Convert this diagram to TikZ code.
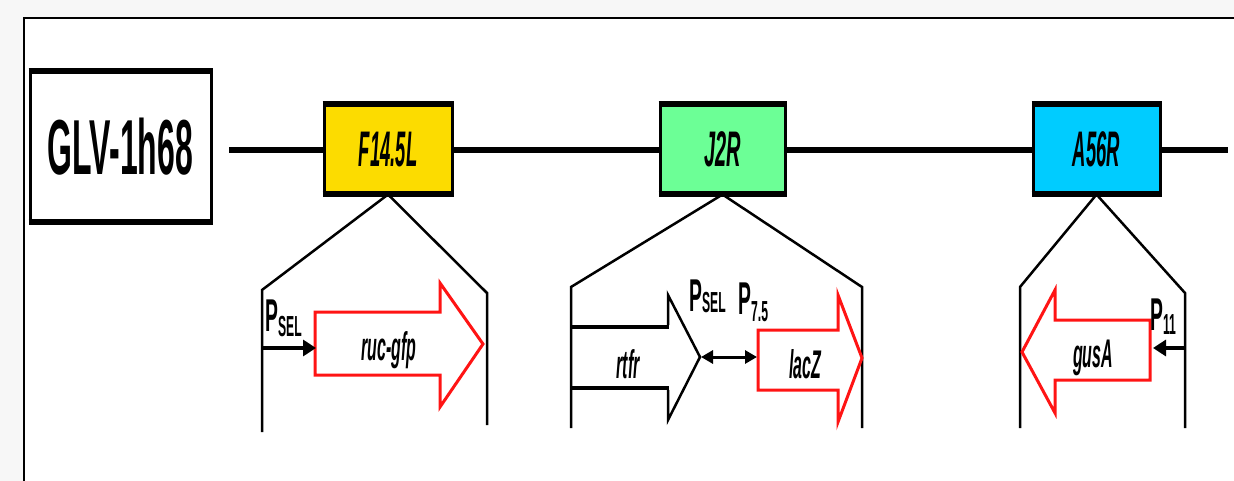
\documentclass[tikz,border=0pt]{standalone}
\usepackage{fontspec}
\usepackage{graphicx}
\setmainfont{Liberation Sans}
\usetikzlibrary{arrows.meta}
\definecolor{bggray}{HTML}{F7F7F7}
\definecolor{geneyellow}{HTML}{FCDC00}
\definecolor{genegreen}{HTML}{6CFF96}
\definecolor{genecyan}{HTML}{00CCFF}
\definecolor{cassred}{HTML}{FF1414}
\newcommand\sqz[2][0.40]{\scalebox{#1}[1]{#2}}
\newcommand\plab[2][-5pt]{\sqz[0.42]{\bfseries\fontsize{46}{46}\selectfont P\raisebox{#1}{\fontsize{29}{29}\selectfont #2}}}
\begin{document}
\begin{tikzpicture}[x=1pt,y=-1pt,
  genebox/.style={draw, line width=3pt, minimum height=87pt, inner sep=0pt,
    font=\fontsize{50}{50}\selectfont\bfseries\itshape},
  edgebar/.style={line width=6pt},
  ins/.style={line width=2.5pt, line join=miter},
  cass/.style={draw=cassred, line width=3pt, fill=white, line join=miter},
  prom/.style={line width=4pt, -{Triangle[length=13pt,width=16pt]}},
  genelabel/.style={font=\fontsize{40}{40}\selectfont\bfseries\itshape, inner sep=0pt},
  plabel/.style={inner sep=0pt, anchor=base west}
]
\useasboundingbox (0,0) rectangle (1234,481);
\fill[bggray] (0,0) rectangle (1234,481);
\fill[white] (24,18) rectangle (1234,481);
\draw[line width=2pt] (24,481) -- (24,18) -- (1234,18);

% backbone
\coordinate (lineL) at (229,150);
\coordinate (lineR) at (1228,150);
\draw[line width=6.5pt] (lineL) -- (lineR);

% title box
\node[draw, line width=3pt, minimum width=181pt, minimum height=148pt, inner sep=0pt,
  font=\fontsize{78}{78}\selectfont\bfseries, fill=white] (GLV) at (120.5,147) {\sqz[0.41]{GLV-1h68}};
\draw[edgebar] (GLV.north west) -- (GLV.north east);
\draw[edgebar] (GLV.south west) -- (GLV.south east);

% gene boxes
\node[genebox, fill=geneyellow, minimum width=128pt] (F) at (388,149.5) {\sqz[0.37]{F14.5L}};
\node[genebox, fill=genegreen, minimum width=125pt] (J) at (722.5,149.5) {\sqz[0.40]{J2R}};
\node[genebox, fill=genecyan, minimum width=127pt] (A) at (1096.5,149.5) {\sqz[0.37]{A56R}};
\foreach \b in {F,J,A}{
  \draw[edgebar] (\b.north west) -- (\b.north east);
  \draw[edgebar] (\b.south west) -- (\b.south east);
}

% insertion outlines
\coordinate (FL1) at (262,290); \coordinate (FL2) at (262,432);
\coordinate (FR1) at (487,293); \coordinate (FR2) at (487,425);
\coordinate (JL1) at (571,287); \coordinate (JL2) at (571,428);
\coordinate (JR1) at (862,287); \coordinate (JR2) at (862,428);
\coordinate (AL1) at (1020,287); \coordinate (AL2) at (1020,428);
\coordinate (AR1) at (1185,293); \coordinate (AR2) at (1185,428);
\draw[ins] (FL2) -- (FL1) -- (F.south) -- (FR1) -- (FR2);
\draw[ins] (JL2) -- (JL1) -- (J.south) -- (JR1) -- (JR2);
\draw[ins] (AL2) -- (AL1) -- (A.south) -- (AR1) -- (AR2);

% ---- F14.5L insert
\draw[cass] (315,312) -- (440,312) -- (440,283) -- (483,344) -- (440,407) -- (440,375) -- (315,375) -- cycle;
\node[genelabel] (ruc) at (389,350) {\sqz{ruc-gfp}};
\coordinate (pF) at (262,348);
\coordinate (pFend) at (316,348);
\draw[prom] (pF) -- (pFend);
\node[plabel] (pselF) at (265,331) {\plab{SEL}};

% ---- J2R insert
\draw[line width=4.5pt] (571,327) -- (669,327);
\draw[line width=4.5pt] (571,388) -- (669,388);
\draw[line width=2.5pt, line join=miter] (668,325) -- (668,295) -- (700,357) -- (668,420) -- (668,390);
\node[genelabel] (rtfr) at (628,364) {\sqz{rtfr}};
\coordinate (rtip) at (701,357);
\draw[cass] (758,330) -- (838,330) -- (838,295) -- (862,358) -- (838,422) -- (838,390) -- (758,390) -- cycle;
\node[genelabel] (lacZ) at (805,364) {\sqz{lacZ}};
\coordinate (lstart) at (757,357);
\draw[line width=3pt, {Triangle[length=12pt,width=13pt]}-{Triangle[length=12pt,width=13pt]}] (rtip) -- (lstart);
\node[plabel] (pselJ) at (689,311) {\plab[-1pt]{SEL}};
\node[plabel] (p75) at (738,314) {\plab[-7pt]{7.5}};

% ---- A56R insert
\draw[cass] (1150,320) -- (1055,320) -- (1055,290) -- (1022,352) -- (1055,413) -- (1055,380) -- (1150,380) -- cycle;
\node[genelabel] (gus) at (1093,358) {\sqz{gusA}};
\coordinate (pA) at (1185,348);
\coordinate (pAend) at (1153,348);
\draw[prom] (pA) -- (pAend);
\node[plabel] (p11) at (1150,330) {\plab[-4pt]{11}};
\end{tikzpicture}
\end{document}
